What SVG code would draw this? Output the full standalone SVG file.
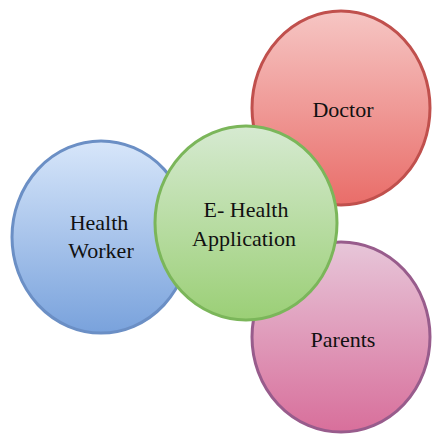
<svg xmlns="http://www.w3.org/2000/svg" width="432" height="435" viewBox="0 0 432 435">
<defs>
<linearGradient id="gRed" x1="0" y1="0" x2="0" y2="1"><stop offset="0" stop-color="#f6c6c4"/><stop offset="1" stop-color="#e96d69"/></linearGradient>
<linearGradient id="gPink" x1="0" y1="0" x2="0" y2="1"><stop offset="0" stop-color="#e7c6d9"/><stop offset="1" stop-color="#d86f9b"/></linearGradient>
<linearGradient id="gBlue" x1="0" y1="0" x2="0" y2="1"><stop offset="0" stop-color="#d7e6fa"/><stop offset="1" stop-color="#79a2dc"/></linearGradient>
<linearGradient id="gGreen" x1="0" y1="0" x2="0" y2="1"><stop offset="0" stop-color="#d6ead1"/><stop offset="1" stop-color="#9bcf76"/></linearGradient>
</defs>
<style>
.t{font-family:"Liberation Serif","Times New Roman",serif;font-size:22px;fill:#111;text-anchor:middle}
.c{stroke-width:3}
</style>
<rect width="432" height="435" fill="#fff"/>
<g id="connectors"/>
<g id="doctor">
<ellipse class="c" cx="341" cy="108" rx="89" ry="97" fill="url(#gRed)" stroke="#c0504d"/>
<text class="t" x="343" y="117">Doctor</text>
</g>
<g id="parents">
<ellipse class="c" cx="341" cy="337" rx="89" ry="95" fill="url(#gPink)" stroke="#985c8c"/>
<text class="t" x="343" y="347">Parents</text>
</g>
<g id="health-worker">
<ellipse class="c" cx="101" cy="237" rx="89" ry="96" fill="url(#gBlue)" stroke="#6b8fc5"/>
<text class="t" x="99" y="230">Health</text>
<text class="t" x="101" y="258">Worker</text>
</g>
<g id="e-health">
<ellipse class="c" cx="246" cy="223" rx="91" ry="97" fill="url(#gGreen)" stroke="#7bb65a"/>
<text class="t" x="246" y="217">E- Health</text>
<text class="t" x="244" y="246">Application</text>
</g>
</svg>
